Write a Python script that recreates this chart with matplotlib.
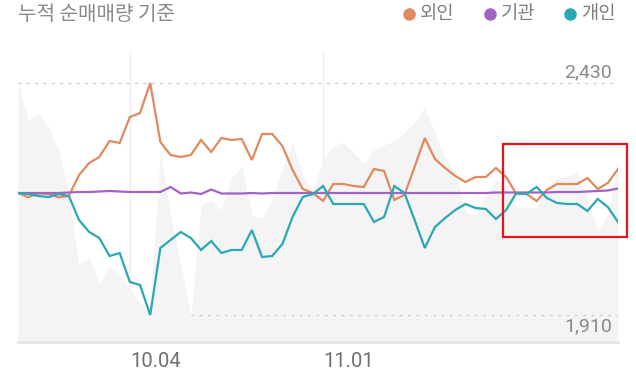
import numpy as np
import matplotlib.pyplot as plt
from matplotlib.lines import Line2D
from matplotlib.patches import Rectangle
import matplotlib.transforms as mtransforms

# 지수(회색 배경) - 일별 종가
index_price = [2430, 2347, 2363, 2331, 2280, 2179, 2022, 2038, 1982, 2020,
               2000, 1970, 1937, 1921, 2280, 2134, 2022, 1910, 2157, 2168,
               2145, 2217, 2244, 2134, 2127, 2168, 2240, 2296, 2224, 2190,
               2257, 2289, 2296, 2275, 2248, 2280, 2291, 2300, 2318, 2343,
               2376, 2318, 2262, 2230, 2141, 2134, 2179, 2213, 2201, 2152,
               2150, 2152, 2195, 2217, 2222, 2230, 2168, 2100, 2136, 2253]

# 누적 순매매량
foreign = [6, -86, -6, -20, -86, -60, 360, 600, 720, 1040,
           1000, 1520, 1600, 2200, 1020, 760, 720, 760, 1060, 820,
           1100, 1060, 1080, 660, 1180, 1180, 940, 460, 80, 0,
           -160, 180, 180, 140, 120, 480, 440, -140, -40, 520,
           1100, 680, 500, 340, 220, 320, 320, 500, 320, -20,
           -20, -160, 60, 180, 180, 180, 300, 80, 200, 480]
institution = [0, 0, 0, 0, 0, 10, 20, 20, 30, 40,
               30, 20, 20, 20, 20, 120, -10, 10, -20, 70,
               -10, -10, -10, 0, -10, 0, 0, 0, 0, 0,
               0, 0, 0, 0, 0, 0, 0, 0, 0, 0,
               0, 0, 0, 0, 0, 0, 0, 10, 10, 10,
               10, 10, 10, 20, 20, 20, 30, 40, 50, 90]
individual = [0, -20, -60, -80, -20, -60, -540, -780, -900, -1260,
              -1200, -1780, -1840, -2440, -1100, -940, -780, -900, -1140, -960,
              -1200, -1140, -1140, -740, -1280, -1260, -1020, -480, -80, -20,
              140, -220, -220, -220, -220, -580, -480, 140, 0, -540,
              -1100, -680, -500, -340, -220, -300, -320, -520, -340, 0,
              -20, 120, -100, -200, -220, -220, -360, -120, -280, -580]

tick_pos = [11, 30]
tick_labels = ['10.04', '11.01']

series_names = ['외인', '기관', '개인']
series_colors = ['#df8a5f', '#a462c6', '#2aa8b3']

x = np.arange(len(index_price))
W, H = 636, 372

fig = plt.figure(figsize=(W / 100, H / 100), dpi=100)
fig.patch.set_facecolor('white')

# 플롯 영역 (픽셀 기준)
left, right, top, bottom = 18, 618, 50, 342
ax = fig.add_axes([left / W, (H - bottom) / H, (right - left) / W, (bottom - top) / H])

# 지수 축: 2,430 -> y=83px, 1,910 -> y=315px
hi, lo = max(index_price), min(index_price)
px_per_unit = (315 - 83) / (hi - lo)
y_top = hi + (83 - top) / px_per_unit
y_bot = lo - (bottom - 315) / px_per_unit

ax.fill_between(x, index_price, y_bot, color='#f4f4f4', lw=0, zorder=1)
ax.set_xlim(0, len(x) - 1)
ax.set_ylim(y_bot, y_top)

for p in tick_pos:
    ax.axvline(p, color='#eeeeee', lw=1, zorder=0.5)

i_hi = int(np.argmax(index_price))
i_lo = int(np.argmin(index_price))
ax.hlines(hi, i_hi, len(x) - 1, colors='#cfcfcf', lw=1, linestyles=(0, (2, 4)), zorder=2)
ax.hlines(lo, i_lo, len(x) - 1, colors='#cfcfcf', lw=1, linestyles=(0, (2, 4)), zorder=2)

trans = mtransforms.blended_transform_factory(ax.transAxes, ax.transData)
ax.text(0.99, hi + 2 / px_per_unit, f'{hi:,}', transform=trans, ha='right', va='bottom',
        fontsize=14, color='#8a8a8a', family='Roboto')
ax.text(0.99, lo - 2 / px_per_unit, f'{lo:,}', transform=trans, ha='right', va='top',
        fontsize=14, color='#8a8a8a', family='Roboto')

ax.set_xticks(tick_pos)
ax.set_xticklabels(tick_labels, fontsize=14.5, color='#6f6f6f', family='Roboto')
for lab in ax.get_xticklabels():
    lab.set_horizontalalignment('left')
ax.tick_params(axis='x', length=0, pad=7)
ax.set_yticks([])
for s in ['top', 'left', 'right']:
    ax.spines[s].set_visible(False)
ax.spines['bottom'].set_color('#e6e6e6')
ax.spines['bottom'].set_linewidth(2)

# 순매매 축: 0 -> y=193px, 1 unit = 1/20 px
zero_px, scale = 193, 20
ax2 = ax.twinx()
ax2.set_ylim((zero_px - bottom) * scale, (zero_px - top) * scale)
for vals, c in zip([foreign, institution, individual], series_colors):
    ax2.plot(x, vals, color=c, lw=1.6, solid_joinstyle='miter', zorder=3)
ax2.set_yticks([])
for s in ax2.spines.values():
    s.set_visible(False)

# 제목
fig.text(18 / W, 1 - 14 / H, '누적 순매매량 기준', ha='left', va='center',
         fontsize=14.5, color='#8a8a8a', family='Noto Sans CJK KR')

# 범례 (점 + 글자)
dot_x = [409, 490, 570]
for dx, name, c in zip(dot_x, series_names, series_colors):
    fig.add_artist(Line2D([dx / W], [1 - 14 / H], ls='', marker='o', markersize=8,
                          color=c, transform=fig.transFigure))
    fig.text((dx + 11) / W, 1 - 14 / H, name, ha='left', va='center', fontsize=13.5,
             color='#808080', family='Noto Sans CJK KR')

# 강조 박스
fig.add_artist(Rectangle((503 / W, 1 - 237 / H), 124 / W, 93 / H, fill=False,
                         edgecolor='#e5141b', lw=1.6, transform=fig.transFigure))

fig.savefig('out.png', dpi=100)
